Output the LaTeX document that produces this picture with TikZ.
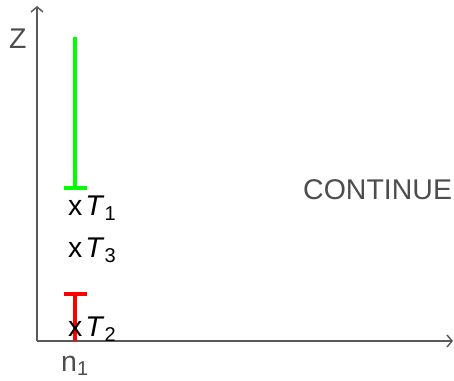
\documentclass[tikz,border=0pt]{standalone}
\usepackage{fontspec}
\setmainfont{Liberation Sans}
\usetikzlibrary{arrows.meta}
\definecolor{axisgray}{HTML}{5a5a5a}
\definecolor{textgray}{HTML}{4d4d4d}
\tikzset{
  axis/.style  = {draw=axisgray, line width=1.8pt,
                  -{Straight Barb[length=5pt, width=12pt, line width=1.5pt]}},
  lbl/.style   = {inner sep=0pt, anchor=base west,
                  font=\fontsize{28.5}{32}\selectfont},
  glbl/.style  = {lbl, text=textgray},
  bar/.style   = {line width=3.4pt},
  gbar/.style  = {bar, draw={rgb,255:red,0;green,255;blue,0}},
  rbar/.style  = {bar, draw={rgb,255:red,255;green,0;blue,0}}
}
\newcommand{\tlabel}[1]{x\hspace{3pt}\textit{T}\raisebox{-5pt}{\fontsize{20}{22}\selectfont #1}}

\begin{document}
\begin{tikzpicture}[x=1pt, y=-1pt]
  \useasboundingbox (0,0) rectangle (454,380);
  % axes
  \coordinate (origin) at (37,341);
  \coordinate (ztip)   at (37,6);
  \coordinate (ntip)   at (453,341);
  \draw[axis] (origin) -- (ztip);
  \draw[axis] (origin) -- (ntip);
  \node[glbl] (zlab) at (9,48)  {Z};
  \node[glbl] (nlab) at (61,371) {n\raisebox{-4pt}{\fontsize{20}{22}\selectfont 1}};
  \node[glbl] (cont) at (303,199) {CONTINUE};
  % bars
  \coordinate (gtop) at (75,37);
  \coordinate (gbot) at (75,188);
  \coordinate (gl)   at (64,188);
  \coordinate (gr)   at (87,188);
  \draw[gbar] (gtop) -- (gbot);
  \draw[gbar] (gl) -- (gr);
  \coordinate (rtop) at (75,294);
  \coordinate (rl)   at (64,294);
  \coordinate (rr)   at (87,294);
  \draw[rbar] (rtop) -- (origin -| rtop);
  \draw[rbar] (rl) -- (rr);
  % labels
  \node[lbl] (t1) at (68,215) {\tlabel{1}};
  \node[lbl] (t3) at (68,257) {\tlabel{3}};
  \node[lbl] (t2) at (68,336) {\tlabel{2}};
\end{tikzpicture}
\end{document}
